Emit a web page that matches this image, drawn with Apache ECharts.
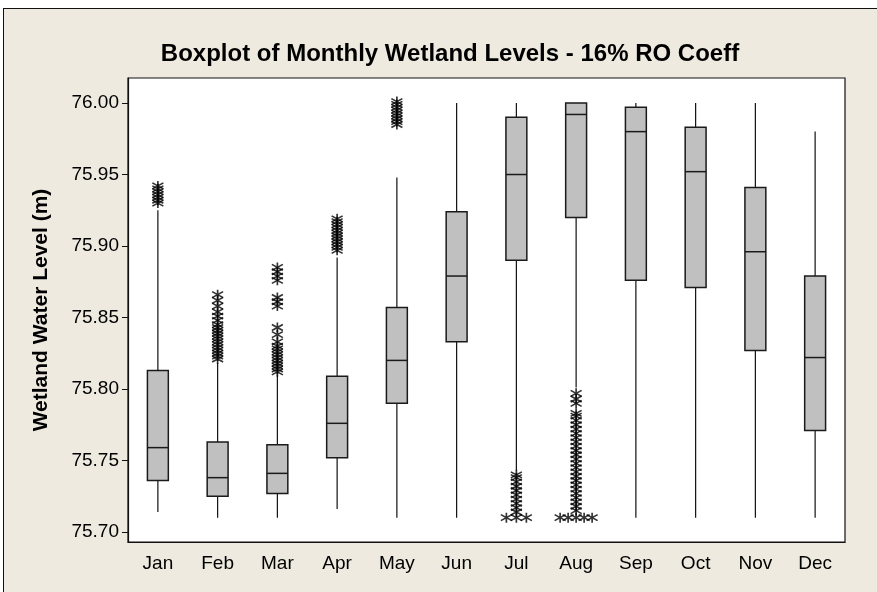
<!DOCTYPE html>
<html>
<head>
<meta charset="utf-8">
<script src="https://cdn.jsdelivr.net/npm/echarts@6/dist/echarts.min.js"></script>
<style>
  html, body { margin: 0; padding: 0; background: #fff; }
  .frame {
    position: absolute; left: 3px; top: 8px; width: 900px; height: 700px;
    background: #eeeae0; border-left: 1px solid #111; border-top: 1px solid #111;
  }
  #chart { position: absolute; left: 0; top: 0; width: 877px; height: 592px; }
</style>
</head>
<body>
<div class="frame"></div>
<div id="chart"></div>
<script>
// 月份
const months = ['Jan', 'Feb', 'Mar', 'Apr', 'May', 'Jun', 'Jul', 'Aug', 'Sep', 'Oct', 'Nov', 'Dec']
// 箱线图数据：下须、Q1、中位数、Q3、上须
const whiskerLow = [75.714, 75.710, 75.710, 75.716, 75.710, 75.710, 75.743, 75.801, 75.710, 75.710, 75.710, 75.710]
const q1 = [75.736, 75.725, 75.727, 75.752, 75.790, 75.833, 75.890, 75.920, 75.876, 75.871, 75.827, 75.771]
const median = [75.759, 75.738, 75.741, 75.776, 75.820, 75.879, 75.950, 75.992, 75.980, 75.952, 75.896, 75.822]
const q3 = [75.813, 75.763, 75.761, 75.809, 75.857, 75.924, 75.990, 76.000, 75.997, 75.983, 75.941, 75.879]
const whiskerHigh = [75.925, 75.818, 75.810, 75.892, 75.948, 76.000, 76.000, 76.000, 76.000, 76.000, 76.000, 75.980]
// 异常值
const janOut = [75.930, 75.932, 75.934, 75.936, 75.938, 75.940, 75.942]
const febOut = [75.821, 75.823, 75.825, 75.827, 75.829, 75.831, 75.833, 75.835, 75.837, 75.839, 75.841,
  75.843, 75.845, 75.848, 75.851, 75.854, 75.858, 75.862, 75.866]
const marOut = [75.812, 75.814, 75.816, 75.818, 75.820, 75.822, 75.824, 75.826, 75.828, 75.830, 75.833,
  75.838, 75.843, 75.858, 75.861, 75.864, 75.876, 75.879, 75.882, 75.885]
const aprOut = [75.897, 75.899, 75.901, 75.903, 75.905, 75.907, 75.909, 75.911, 75.913, 75.915, 75.917, 75.919]
const mayOut = [75.985, 75.987, 75.989, 75.991, 75.993, 75.995, 75.997, 75.999, 76.001]
const julOut = [75.714, 75.717, 75.720, 75.723, 75.726, 75.729, 75.732, 75.735, 75.738, 75.740]
const julTies = [75.710, 75.710, 75.710]
const augOut = [75.715, 75.718, 75.721, 75.724, 75.727, 75.730, 75.733, 75.736, 75.739, 75.742, 75.745,
  75.748, 75.751, 75.754, 75.757, 75.760, 75.763, 75.766, 75.769, 75.772, 75.775, 75.778, 75.781,
  75.783, 75.790, 75.793, 75.797]
const augTies = [75.710, 75.710, 75.710, 75.710, 75.710]
// 刻度
const yTicks = [75.70, 75.75, 75.80, 75.85, 75.90, 75.95, 76.00]

const boxData = months.map((m, i) => [i, whiskerLow[i], q1[i], median[i], q3[i], whiskerHigh[i]])

const outliers = []
const pushOut = (idx, arr) => arr.forEach(v => outliers.push({value: [idx, v]}))
pushOut(0, janOut)
pushOut(1, febOut)
pushOut(2, marOut)
pushOut(3, aprOut)
pushOut(4, mayOut)
pushOut(6, julOut)
pushOut(7, augOut)
// 并列的值横向排开
const julShift = [-10, 0, 10]
const augShift = [-16, -8, 0, 8, 16]
julTies.forEach((v, k) => outliers.push({value: [6, v], symbolOffset: [julShift[k], 0]}))
augTies.forEach((v, k) => outliers.push({value: [7, v], symbolOffset: [augShift[k], 0]}))

const font = '"Liberation Sans", Arial, sans-serif'
const chart = echarts.init(document.getElementById('chart'))

const renderBox = (params, api) => {
  const x = api.value(0)
  const pLow = api.coord([x, api.value(1)])
  const pQ1 = api.coord([x, api.value(2)])
  const pMed = api.coord([x, api.value(3)])
  const pQ3 = api.coord([x, api.value(4)])
  const pHigh = api.coord([x, api.value(5)])
  const w = api.size([1, 0])[0] * 0.35
  const cx = pMed[0]
  return {
    type: 'group',
    children: [
      {
        type: 'line',
        shape: {x1: cx, y1: pLow[1], x2: cx, y2: pHigh[1]},
        style: {stroke: '#111', lineWidth: 1.2}
      },
      {
        type: 'rect',
        shape: {x: cx - w / 2, y: pQ3[1], width: w, height: pQ1[1] - pQ3[1]},
        style: {fill: '#c0c0c0', stroke: '#1a1a1a', lineWidth: 1.5}
      },
      {
        type: 'line',
        shape: {x1: cx - w / 2, y1: pMed[1], x2: cx + w / 2, y2: pMed[1]},
        style: {stroke: '#1a1a1a', lineWidth: 1.5}
      }
    ]
  }
}

const option = {
  backgroundColor: 'transparent',
  animation: false,
  title: {
    text: 'Boxplot of Monthly Wetland Levels - 16% RO Coeff',
    left: 445,
    textAlign: 'center',
    top: 37,
    textStyle: {
      color: '#000',
      fontFamily: font,
      fontWeight: 'bold',
      fontSize: 24
    }
  },
  grid: {
    left: 128,
    top: 78,
    width: 717,
    height: 464,
    show: true,
    backgroundColor: '#fff',
    borderColor: '#111',
    borderWidth: 1.2
  },
  xAxis: {
    type: 'category',
    data: months,
    boundaryGap: true,
    axisLine: {lineStyle: {color: '#111', width: 1.2}},
    axisTick: {alignWithLabel: true, length: 5, lineStyle: {color: '#111'}},
    axisLabel: {color: '#000', fontFamily: font, fontSize: 19, margin: 12},
    splitLine: {show: false}
  },
  yAxis: {
    type: 'value',
    min: 75.693,
    max: 76.0175,
    name: 'Wetland Water Level (m)',
    nameLocation: 'middle',
    nameGap: 76,
    nameTextStyle: {color: '#000', fontFamily: font, fontWeight: 'bold', fontSize: 21},
    axisLine: {show: true, lineStyle: {color: '#111', width: 1.2}},
    axisTick: {show: true, length: 6, customValues: yTicks, lineStyle: {color: '#111'}},
    axisLabel: {
      color: '#000',
      fontFamily: font,
      fontSize: 19,
      margin: 9,
      customValues: yTicks,
      formatter: v => v.toFixed(2)
    },
    splitLine: {show: false}
  },
  series: [
    {
      type: 'custom',
      renderItem: renderBox,
      data: boxData,
      encode: {x: 0, y: [1, 2, 3, 4, 5]},
      z: 2
    },
    {
      type: 'scatter',
      data: outliers,
      symbol: 'path://M5,0L5,10M0,2L10,8M0,8L10,2',
      symbolSize: [11, 10],
      itemStyle: {color: 'none', borderColor: '#000', borderWidth: 1.6},
      z: 3
    }
  ]
}
chart.setOption(option)
</script>
</body>
</html>
